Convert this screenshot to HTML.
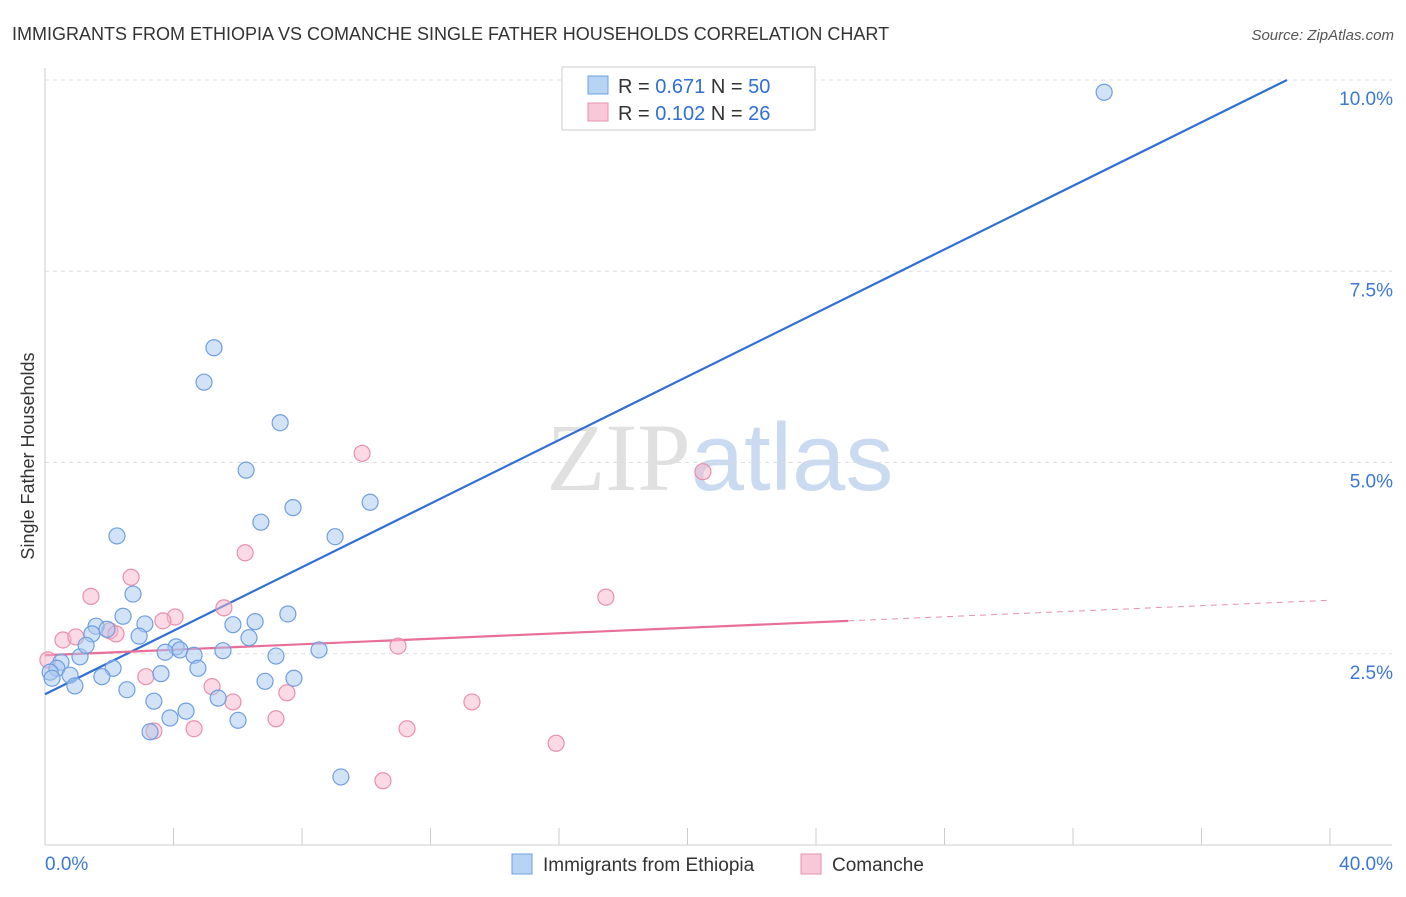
<!DOCTYPE html>
<html><head><meta charset="utf-8"><style>
body{margin:0;background:#fff;font-family:"Liberation Sans",sans-serif;}
svg text{font-family:"Liberation Sans",sans-serif;}
</style></head><body>
<svg id="chart" width="1406" height="892" viewBox="0 0 1406 892">
<text x="12" y="40" font-size="18" fill="#333">IMMIGRANTS FROM ETHIOPIA VS COMANCHE SINGLE FATHER HOUSEHOLDS CORRELATION CHART</text>
<text x="1394" y="40" font-size="15" fill="#555" text-anchor="end" font-style="italic">Source: ZipAtlas.com</text>
<text transform="translate(34,456) rotate(-90)" font-size="18" fill="#333" text-anchor="middle">Single Father Households</text>
<text x="720" y="490" font-size="96" text-anchor="middle" fill="#ccc" opacity="0.6"><tspan font-family="Liberation Serif">ZIP</tspan><tspan fill="#a8c4e8">atlas</tspan></text>
<g id="grid"></g><g id="axes"></g><g id="lines"></g><g id="pts"></g>
<g>
<rect x="562" y="67" width="253" height="63" fill="#fff" stroke="#ccc"/>
<rect x="588" y="76" width="20" height="18" fill="#b8d4f5" stroke="#6f9fe0"/>
<text x="618" y="93" font-size="20" fill="#333">R = <tspan fill="#2f6fd6">0.671</tspan>   N = <tspan fill="#2f6fd6">50</tspan></text>
<rect x="588" y="103" width="20" height="18" fill="#f8c8d8" stroke="#e890ab"/>
<text x="618" y="120" font-size="20" fill="#333">R = <tspan fill="#2f6fd6">0.102</tspan>   N =  <tspan fill="#2f6fd6">26</tspan></text>
</g>
<g>
<rect x="512" y="854" width="20" height="20" fill="#b8d4f5" stroke="#6f9fe0"/>
<text x="543" y="871" font-size="19" fill="#333">Immigrants from Ethiopia</text>
<rect x="801" y="854" width="20" height="20" fill="#f8c8d8" stroke="#e890ab"/>
<text x="832" y="871" font-size="19" fill="#333">Comanche</text>
</g>
</svg>
<script>
const NS="http://www.w3.org/2000/svg";
const yTicks=[2.5,5,7.5,10];
const yTickLabels=["2.5%","5.0%","7.5%","10.0%"];
const xTicks=[0,4,8,12,16,20,24,28,32,36,40];
const xTickLabels=["0.0%","40.0%"];
const ethX=[32.97,5.26,4.95,7.32,6.26,7.72,10.12,6.72,9.03,2.24,2.74,7.56,2.43,3.11,6.54,5.85,1.59,1.93,1.46,2.93,6.35,4.08,3.74,4.20,5.54,4.64,8.53,1.09,0.50,0.37,0.16,0.78,1.28,2.12,4.76,3.61,7.19,1.77,6.85,7.75,0.93,2.55,3.39,5.39,4.39,3.89,6.01,3.27,9.21,0.22];
const ethY=[9.84,6.50,6.05,5.52,4.90,4.41,4.48,4.22,4.03,4.04,3.28,3.02,2.99,2.89,2.92,2.88,2.86,2.82,2.76,2.73,2.71,2.59,2.52,2.55,2.54,2.48,2.55,2.46,2.39,2.31,2.26,2.22,2.61,2.31,2.31,2.24,2.47,2.20,2.14,2.18,2.08,2.03,1.88,1.92,1.75,1.66,1.63,1.48,0.89,2.18];
const comX=[9.87,20.48,6.23,2.68,1.43,17.46,5.57,4.05,3.67,2.02,2.21,0.56,0.96,10.99,0.09,3.14,5.20,7.53,5.85,13.29,7.19,4.64,3.39,11.27,15.91,10.52];
const comY=[5.12,4.88,3.82,3.50,3.25,3.24,3.10,2.98,2.93,2.80,2.76,2.68,2.72,2.60,2.42,2.20,2.07,1.99,1.87,1.87,1.65,1.52,1.49,1.52,1.33,0.84];
const ethLine=[1.97,0.2077];   // intercept, slope
const comLine=[2.48,0.018];
const X=v=>45+v*32.125, Y=v=>845-v*76.5;
function mk(tag,attrs,parent){const e=document.createElementNS(NS,tag);for(const k in attrs)e.setAttribute(k,attrs[k]);document.getElementById(parent).appendChild(e);return e;}
yTicks.forEach((t,i)=>{
 const g=mk("line",{x1:45,x2:1392,y1:Y(t),y2:Y(t),stroke:"#ddd","stroke-dasharray":"4,4"},"grid");
 
 
 const l=mk("text",{x:1393,y:Y(t)+25,"font-size":19,fill:"#3b78d8","text-anchor":"end"},"grid");
 l.textContent=yTickLabels[i];
 
 
});
const ya=mk("line",{x1:45,x2:45,y1:68,y2:845,stroke:"#ccc"},"axes");


const xa=mk("line",{x1:45,x2:1392,y1:845,y2:845,stroke:"#ccc"},"axes");


xTicks.forEach(t=>{
 const k=mk("line",{x1:X(t),x2:X(t),y1:828,y2:845,stroke:"#ccc"},"axes");
 
 
});
const xl0=mk("text",{x:45,y:870,"font-size":19,fill:"#3b78d8"},"axes");
xl0.textContent=xTickLabels[0];


const xl1=mk("text",{x:1393,y:870,"font-size":19,fill:"#3b78d8","text-anchor":"end"},"axes");
xl1.textContent=xTickLabels[1];


function pts(xs,ys,fill,stroke,name){xs.forEach((x,i)=>{
 const c=mk("circle",{cx:X(x),cy:Y(ys[i]),r:8,fill:fill,"fill-opacity":0.5,stroke:stroke,"stroke-width":1.2},"pts");
 
 
});}
pts(comX,comY,"#f7b6cb","#e890ab","point-comanche");
pts(ethX,ethY,"#a8c8f0","#6f9fe0","point-ethiopia");
const xEnd=(10-ethLine[0])/ethLine[1];
const bl=mk("line",{x1:X(0),y1:Y(ethLine[0]),x2:X(xEnd),y2:Y(10),stroke:"#2f6fd6","stroke-width":2.2},"lines");


const pl=mk("line",{x1:X(0),y1:Y(comLine[0]),x2:X(25),y2:Y(comLine[0]+25*comLine[1]),stroke:"#e86f98","stroke-width":2.2},"lines");


const pd=mk("line",{x1:X(25),y1:Y(comLine[0]+25*comLine[1]),x2:X(40),y2:Y(comLine[0]+40*comLine[1]),stroke:"#e890ab","stroke-width":1,"stroke-dasharray":"6,5"},"lines");


</script>
</body></html>
